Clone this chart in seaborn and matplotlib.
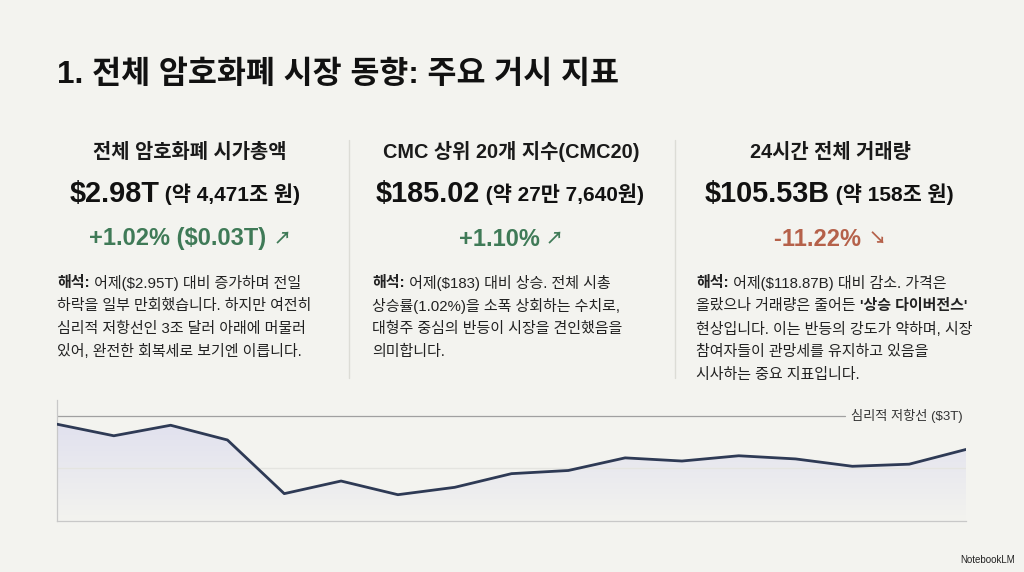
import numpy as np
import pandas as pd
import seaborn as sns
import matplotlib.pyplot as plt
from matplotlib.patches import Polygon

sns.set_theme(style="white")
plt.rcParams['font.family'] = ['Liberation Sans', 'Noto Sans CJK KR', 'DejaVu Sans']

# 데이터
days = list(range(17))
market_cap = [2.992, 2.981, 2.991, 2.977, 2.926, 2.938, 2.925, 2.932, 2.945,
              2.948, 2.960, 2.957, 2.962, 2.959, 2.952, 2.954, 2.968]
resistance = 3.0
resistance_label = "심리적 저항선 ($3T)"

title = "1. 전체 암호화폐 시장 동향: 주요 거시 지표"
headers = ["전체 암호화폐 시가총액", "CMC 상위 20개 지수(CMC20)", "24시간 전체 거래량"]
values_big = ["$2.98T", "$185.02", "$105.53B"]
values_small = [" (약 4,471조 원)", " (약 27만 7,640원)", " (약 158조 원)"]
changes = ["+1.02% ($0.03T) ", "+1.10% ", "-11.22% "]
arrows = ["↗", "↗", "↘"]
change_colors = ["#3f7a57", "#3f7a57", "#b5614a"]
notes = [
    [[("해석:", True), (" 어제($2.95T) 대비 증가하며 전일", False)],
     [("하락을 일부 만회했습니다. 하지만 여전히", False)],
     [("심리적 저항선인 3조 달러 아래에 머물러", False)],
     [("있어, 완전한 회복세로 보기엔 이릅니다.", False)]],
    [[("해석:", True), (" 어제($183) 대비 상승. 전체 시총", False)],
     [("상승률(1.02%)을 소폭 상회하는 수치로,", False)],
     [("대형주 중심의 반등이 시장을 견인했음을", False)],
     [("의미합니다.", False)]],
    [[("해석:", True), (" 어제($118.87B) 대비 감소. 가격은", False)],
     [("올랐으나 거래량은 줄어든 ", False), ("'상승 다이버전스'", True)],
     [("현상입니다. 이는 반등의 강도가 약하며, 시장", False)],
     [("참여자들이 관망세를 유지하고 있음을", False)],
     [("시사하는 중요 지표입니다.", False)]],
]

BG = "#f3f3ef"
W, H = 1024, 572
fig = plt.figure(figsize=(W / 100, H / 100), dpi=100, facecolor=BG)
renderer = fig.canvas.get_renderer()


def fx(px):
    return px / W


def fy(py):
    return 1 - py / H


def segments(parts, x, y, color="#1a1a1a", ha="left"):
    # 여러 스타일의 텍스트를 이어서 배치
    texts = []
    for s, bold, sz in parts:
        t = fig.text(0, fy(y), s, fontsize=sz, fontweight="bold" if bold else "normal",
                     color=color, va="center", ha="left")
        texts.append(t)
    widths = [t.get_window_extent(renderer).width for t in texts]
    total = sum(widths)
    start = x - total / 2 if ha == "center" else x
    for t, w in zip(texts, widths):
        t.set_x(fx(start))
        start += w
    return texts


fig.text(fx(57), fy(75), title, fontsize=22.7, fontweight="bold", color="#111111", va="center")

centers = [190, 511, 830]
val_centers = [185, 510, 829]
lefts = [57, 372, 696]
for i in range(3):
    fig.text(fx(centers[i]), fy(152), headers[i], fontsize=14.3, fontweight="bold",
             color="#1a1a1a", ha="center", va="center")
    segments([(values_big[i], True, 20.8), (values_small[i], True, 15)], val_centers[i], 194,
             color="#111111", ha="center")
    segments([(changes[i], True, 17), (arrows[i], True, 12.5)], centers[i], 239,
             color=change_colors[i], ha="center")
    for j, line in enumerate(notes[i]):
        segments([(s, b, 10.8) for s, b in line], lefts[i], 283 + j * 23, color="#222222")

for xv in [349, 675]:
    fig.add_artist(plt.Line2D([fx(xv), fx(xv)], [fy(140), fy(378)], color="#dcdcd6", lw=1))

# 라인 차트
ax = fig.add_axes([fx(57), fy(521), fx(966) - fx(57), fy(400) - fy(521)])
ax.set_facecolor(BG)
df = pd.DataFrame({"day": days, "cap": market_cap})
ymin, ymax = 2.9, 3.015
ax.set_xlim(0, 16)
ax.set_ylim(ymin, ymax)

grad = np.linspace(1, 0, 256).reshape(-1, 1)
cmap = sns.blend_palette([BG, "#e1e1ee"], as_cmap=True)
img = ax.imshow(grad, extent=[0, 16, ymin, max(market_cap)], aspect="auto",
                cmap=cmap, origin="upper", zorder=1)
poly = Polygon(list(zip(days, market_cap)) + [(16, ymin), (0, ymin)], closed=True,
               transform=ax.transData, facecolor="none", edgecolor="none")
ax.add_patch(poly)
img.set_clip_path(poly)

ax.axhline(2.95, color="#e4e4e0", lw=1, zorder=1.5)
sns.lineplot(data=df, x="day", y="cap", ax=ax, color="#2e3a55", lw=2, zorder=3)
ax.axhline(resistance, xmin=0, xmax=0.867, color="#a0a0a0", lw=0.9, zorder=2)
ax.text(0.874, resistance, resistance_label, transform=ax.get_yaxis_transform(),
        fontsize=9.5, color="#333333", va="center", ha="left")

for side in ["top", "right"]:
    ax.spines[side].set_visible(False)
ax.spines["left"].set_color("#c8c8c8")
ax.spines["bottom"].set_color("#c8c8c8")
ax.spines["left"].set_linewidth(0.9)
ax.spines["bottom"].set_linewidth(0.9)
ax.set_xticks([])
ax.set_yticks([])
ax.set_xlabel("")
ax.set_ylabel("")

fig.text(fx(1015), fy(560), "NotebookLM", fontsize=7, color="#222222", ha="right", va="center")

fig.savefig("out.png", dpi=100, facecolor=BG)
